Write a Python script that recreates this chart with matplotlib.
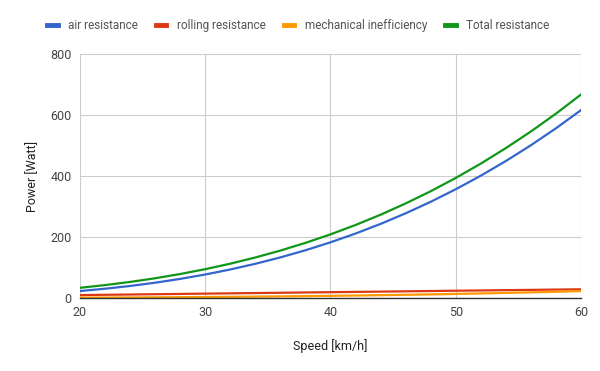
import matplotlib
matplotlib.use("Agg")
import matplotlib.pyplot as plt

# speed in km/h, power in Watt
speed = [20, 22, 24, 26, 28, 30, 32, 34, 36, 38, 40,
         42, 44, 46, 48, 50, 52, 54, 56, 58, 60]
air = [22.8, 30.4, 39.4, 50.1, 62.6, 77.0, 93.5, 112.1, 133.1, 156.5, 182.5,
       211.3, 242.9, 277.6, 315.4, 356.5, 401.0, 449.1, 500.8, 556.4, 616.0]
rolling = [9.5, 10.5, 11.4, 12.4, 13.3, 14.3, 15.2, 16.2, 17.1, 18.1, 19.0,
           20.0, 20.9, 21.9, 22.8, 23.8, 24.7, 25.7, 26.6, 27.6, 28.5]
mech = [1.1, 1.4, 1.8, 2.2, 2.7, 3.2, 3.8, 4.5, 5.3, 6.1, 7.1,
        8.1, 9.2, 10.5, 11.8, 13.3, 14.9, 16.6, 18.5, 20.4, 22.6]
total = [33.4, 42.3, 52.6, 64.7, 78.6, 94.5, 112.5, 132.8, 155.5, 180.7, 208.6,
         239.4, 273.0, 310.0, 350.0, 393.6, 440.6, 491.4, 545.9, 604.4, 667.1]

series = [
    ("air resistance", air, "#3366cc"),
    ("rolling resistance", rolling, "#dc3912"),
    ("mechanical inefficiency", mech, "#ff9900"),
    ("Total resistance", total, "#109618"),
]

plt.rcParams["font.family"] = ["Roboto", "DejaVu Sans"]

fig = plt.figure(figsize=(6, 3.71), dpi=100)
ax = fig.add_axes([0.1333, 0.1968, 0.8350, 0.6576])

for name, vals, col in series:
    ax.plot(speed, vals, color=col, lw=1.6, label=name)

ax.set_xlim(20, 60)
ax.set_ylim(0, 800)
ax.set_xticks([20, 30, 40, 50, 60])
ax.set_yticks([0, 200, 400, 600, 800])
ax.grid(True, color="#cccccc", lw=0.8)
ax.set_axisbelow(True)
for s in ["top", "right", "left"]:
    ax.spines[s].set_visible(False)
ax.spines["bottom"].set_color("#333333")
ax.spines["bottom"].set_linewidth(1)
ax.spines["bottom"].set_zorder(5)
ax.tick_params(length=0, labelsize=9, colors="#444444", pad=6)

ax.set_xlabel("Speed [km/h]", fontsize=9, color="#222222", labelpad=14)
ax.set_ylabel("Power [Watt]", fontsize=9, color="#222222", labelpad=8)

fig.legend(loc="center", bbox_to_anchor=(0.497, 0.932), ncol=4, frameon=False,
           fontsize=8.5, handlelength=0.9, handletextpad=0.9, columnspacing=1.5,
           labelcolor="#555555")
for h in fig.legends[0].legend_handles:
    h.set_linewidth(3.5)

fig.savefig("out.png", dpi=100)
